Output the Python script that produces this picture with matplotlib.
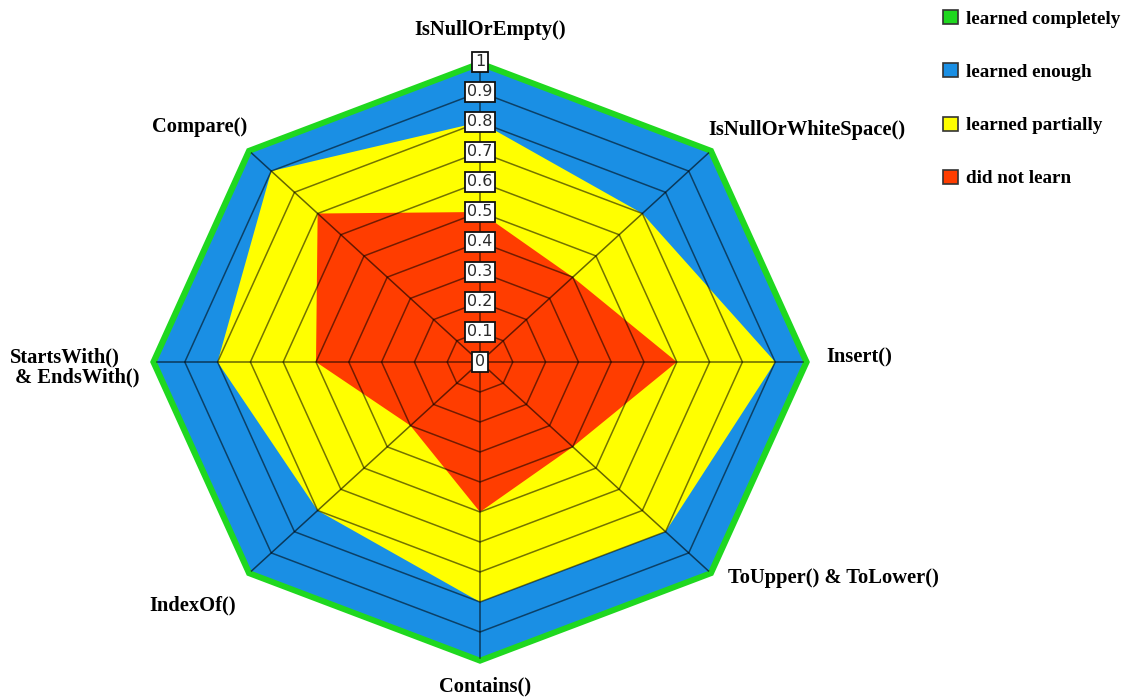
import numpy as np
import matplotlib.pyplot as plt
from matplotlib.patches import Polygon, Patch

# Axes of the radar, clockwise from the top
categories = ['IsNullOrEmpty()', 'IsNullOrWhiteSpace()', 'Insert()', 'ToUpper() & ToLower()',
              'Contains()', 'IndexOf()', 'StartsWith()\n & EndsWith()', 'Compare()']

# Series values
learned_completely = [1.0, 1.0, 1.0, 1.0, 1.0, 1.0, 1.0, 1.0]
learned_enough = [0.985, 0.985, 0.985, 0.985, 0.985, 0.985, 0.985, 0.985]
learned_partially = [0.8, 0.7, 0.9, 0.8, 0.8, 0.7, 0.8, 0.9]
did_not_learn = [0.5, 0.4, 0.6, 0.4, 0.5, 0.3, 0.5, 0.7]

series_names = ['learned completely', 'learned enough', 'learned partially', 'did not learn']
series_colors = ['#1fd81f', '#1a8fe4', '#ffff00', '#ff3d00']

ticks = [0, 0.1, 0.2, 0.3, 0.4, 0.5, 0.6, 0.7, 0.8, 0.9, 1]
tick_labels = ['0', '0.1', '0.2', '0.3', '0.4', '0.5', '0.6', '0.7', '0.8', '0.9', '1']

n = len(categories)
angles = np.arange(n) * 2 * np.pi / n


def to_xy(values):
    values = np.asarray(values, dtype=float)
    return np.column_stack([values * np.sin(angles), values * np.cos(angles)])


fig = plt.figure(figsize=(11.36, 6.98), dpi=100)
ax = fig.add_axes([152 / 1136, 36 / 698, 656 / 1136, 600 / 698])
ax.set_xlim(-1, 1)
ax.set_ylim(-1, 1)
ax.axis('off')

# filled areas, outermost first
ax.add_patch(Polygon(to_xy(learned_completely), closed=True, facecolor=series_colors[0],
                     edgecolor=series_colors[0], lw=2.5, zorder=1, clip_on=False))
ax.add_patch(Polygon(to_xy(learned_enough), closed=True, facecolor=series_colors[1],
                     edgecolor='none', zorder=2, clip_on=False))
ax.add_patch(Polygon(to_xy(learned_partially), closed=True, facecolor=series_colors[2],
                     edgecolor='none', zorder=3, clip_on=False))
ax.add_patch(Polygon(to_xy(did_not_learn), closed=True, facecolor=series_colors[3],
                     edgecolor='none', zorder=4, clip_on=False))

# grid octagons and spokes
for t in ticks[1:-1]:
    pts = to_xy([t] * n)
    pts = np.vstack([pts, pts[:1]])
    ax.plot(pts[:, 0], pts[:, 1], color='black', alpha=0.55, lw=1.1, zorder=5, clip_on=False)
outer = to_xy(learned_enough)
for x, y in outer:
    ax.plot([0, x], [0, y], color='black', alpha=0.6, lw=1.1, zorder=5, clip_on=False)

# value labels on the top axis
for t, lab in zip(ticks, tick_labels):
    ax.text(0, t, lab, ha='center', va='center', fontsize=11.5, family='DejaVu Sans',
            color='#2a2a2a', zorder=7,
            bbox=dict(boxstyle='square,pad=0.16', facecolor='white', edgecolor='#111111', lw=1.3))

# category labels
offsets = [(10, 32), (-4, 20), (18, 5), (16, -4), (5, -24), (-55, -31), (-77, -5), (-48, 23)]
aligns = ['center', 'left', 'left', 'left', 'center', 'center', 'center', 'center']
for (x, y), lab, off, ha in zip(to_xy(learned_completely), categories, offsets, aligns):
    ax.annotate(lab, (x, y), xytext=(off[0] * 0.72, off[1] * 0.72), textcoords='offset points',
                ha=ha, va='center', fontsize=14.8, fontweight='bold', family='Liberation Serif',
                multialignment='left', linespacing=1.0, annotation_clip=False)

handles = [Patch(facecolor=c, edgecolor='#333333', lw=1.2) for c in series_colors]
fig.legend(handles, series_names, loc='upper left', bbox_to_anchor=(926 / 1136, 1.01),
           frameon=False, handlelength=0.75, handleheight=0.75, handletextpad=0.45,
           labelspacing=1.85, prop={'family': 'Liberation Serif', 'weight': 'bold', 'size': 13.8})

fig.savefig('out.png', dpi=100)
